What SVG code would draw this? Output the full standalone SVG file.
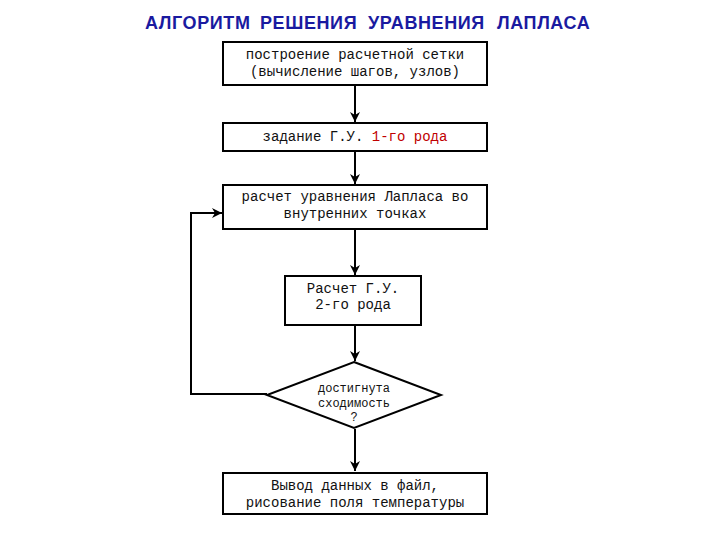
<svg xmlns="http://www.w3.org/2000/svg" width="720" height="540" viewBox="0 0 720 540">
<style>
.box{fill:#fff;stroke:#000;stroke-width:2}
.t{font-family:"Liberation Mono","Courier New",monospace;font-size:14px;fill:#111;text-anchor:middle}
.s{font-size:12px}
.line{fill:none;stroke:#000;stroke-width:2}
.title{font-family:"Liberation Sans",Arial,sans-serif;font-size:18px;letter-spacing:0.6px;font-weight:bold;fill:#1a1aa0}
</style>
<defs>
<marker id="arr" viewBox="0 0 10 10" refX="10" refY="5" markerWidth="5" markerHeight="5" orient="auto" markerUnits="strokeWidth">
<path d="M0,0 L10,5 L0,10 L3,5 Z" fill="#000"/>
</marker>
</defs>
<rect width="720" height="540" fill="#fff"/>
<text class="title" y="29"><tspan x="145">АЛГОРИТМ</tspan><tspan x="260">РЕШЕНИЯ</tspan><tspan x="368">УРАВНЕНИЯ</tspan><tspan x="497">ЛАПЛАСА</tspan></text>
<g id="connectors">
<line class="line" x1="355" y1="86" x2="355" y2="122" marker-end="url(#arr)"/>
<line class="line" x1="355" y1="152" x2="355" y2="184" marker-end="url(#arr)"/>
<line class="line" x1="355" y1="230" x2="355" y2="275" marker-end="url(#arr)"/>
<line class="line" x1="355" y1="326" x2="355" y2="361" marker-end="url(#arr)"/>
<line class="line" x1="355" y1="429" x2="355" y2="471" marker-end="url(#arr)"/>
<polyline class="line" points="267,394 191,394 191,213 222,213" marker-end="url(#arr)"/>
</g>
<g id="n1">
<rect class="box" x="223" y="42" width="264" height="43"/>
<text class="t" x="355" y="59">построение расчетной сетки</text>
<text class="t" x="355" y="76">(вычисление шагов, узлов)</text>
</g>
<g id="n2">
<rect class="box" x="223" y="123" width="264" height="28"/>
<text class="t" x="355" y="141">задание Г.У. <tspan fill="#c00000">1-го рода</tspan></text>
</g>
<g id="n3">
<rect class="box" x="223" y="185" width="264" height="44"/>
<text class="t" x="355" y="201">расчет уравнения Лапласа во</text>
<text class="t" x="355" y="218">внутренних точках</text>
</g>
<g id="n4">
<rect class="box" x="285" y="276" width="136" height="49"/>
<text class="t" x="353" y="293">Расчет Г.У.</text>
<text class="t" x="353" y="309" fill="#1a1aa6">2-го рода</text>
</g>
<g id="n5">
<polygon class="box" points="354,362 441,395 354,428 267,395"/>
<text class="t s" x="354" y="392">достигнута</text>
<text class="t s" x="354" y="407">сходимость</text>
<text class="t s" x="354" y="421">?</text>
</g>
<g id="n6">
<rect class="box" x="223" y="473" width="264" height="41"/>
<text class="t" x="355" y="490">Вывод данных в файл,</text>
<text class="t" x="355" y="507">рисование поля температуры</text>
</g>
</svg>
